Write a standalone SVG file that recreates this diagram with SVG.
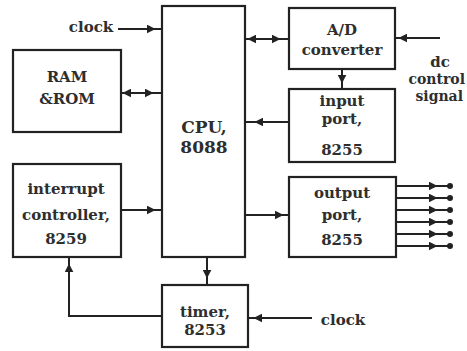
<svg xmlns="http://www.w3.org/2000/svg" width="467" height="351" viewBox="0 0 467 351">
<style>
.box{fill:#fff;stroke:#222;stroke-width:2.2}
.ln{fill:none;stroke:#222;stroke-width:2}
.a{marker-mid:url(#ah)}
.b{marker-mid:url(#ahl)}
.t{font-family:"DejaVu Serif","Liberation Serif",serif;font-weight:bold;font-size:15px;fill:#2e2e2e;text-anchor:middle}
.tb{font-size:17px}
.e{text-anchor:end;font-size:14px}
</style>
<defs>
<marker id="ah" viewBox="0 0 10 10" refX="6" refY="5" markerWidth="4.5" markerHeight="4.5" orient="auto"><path d="M0,0 L10,5 L0,10 z" fill="#222"/></marker>
<marker id="ahl" viewBox="0 0 10 10" refX="4" refY="5" markerWidth="4.5" markerHeight="4.5" orient="auto"><path d="M10,0 L0,5 L10,10 z" fill="#222"/></marker>
<marker id="dot" viewBox="0 0 10 10" refX="5" refY="5" markerWidth="3" markerHeight="3"><circle cx="5" cy="5" r="5" fill="#222"/></marker>
</defs>
<rect width="467" height="351" fill="#fff"/>
<g id="connectors">
<polyline class="ln a" points="118,29 152,29 162,29"/>
<polyline class="ln b" points="121,93 126,93 138,93"/>
<polyline class="ln a" points="138,93 150,93 162,93"/>
<polyline class="ln b" points="245,39 251,39 264,39"/>
<polyline class="ln a" points="264,39 277,39 289,39"/>
<polyline class="ln a" points="440,38 402,38 395,38"/>
<polyline class="ln a" points="342,69 342,80 342,89"/>
<polyline class="ln a" points="289,122 258,122 245,122"/>
<polyline class="ln a" points="121,210 152,210 162,210"/>
<polyline class="ln a" points="245,215 280,215 289,215"/>
<polyline class="ln a" points="207,257 207,275 207,285"/>
<polyline class="ln" points="162,316 69,316 69,290"/>
<polyline class="ln a" points="69,290 69,267 69,257"/>
<polyline class="ln a" points="312,318 257,318 248,318"/>
<g id="outputs">
<polyline class="ln a" points="396,186 434,186 450,186" marker-end="url(#dot)"/>
<polyline class="ln a" points="396,198 434,198 450,198" marker-end="url(#dot)"/>
<polyline class="ln a" points="396,210 434,210 450,210" marker-end="url(#dot)"/>
<polyline class="ln a" points="396,222 434,222 450,222" marker-end="url(#dot)"/>
<polyline class="ln a" points="396,234 434,234 450,234" marker-end="url(#dot)"/>
<polyline class="ln a" points="396,246 434,246 450,246" marker-end="url(#dot)"/>
</g>
</g>
<g id="cpu"><rect class="box" x="162" y="6" width="83" height="251"/>
<text class="t tb" x="204" y="133">CPU,</text><text class="t tb" x="204" y="153">8088</text></g>
<g id="ram"><rect class="box" x="13" y="50" width="108" height="82"/>
<text class="t" x="67" y="82">RAM</text><text class="t" x="67" y="104">&amp;ROM</text></g>
<g id="intr"><rect class="box" x="13" y="164" width="108" height="93"/>
<text class="t" x="66" y="194">interrupt</text><text class="t" x="66" y="220">controller,</text><text class="t" x="66" y="244">8259</text></g>
<g id="adc"><rect class="box" x="289" y="8" width="106" height="61"/>
<text class="t" x="342" y="35">A/D</text><text class="t" x="342" y="55">converter</text></g>
<g id="inport"><rect class="box" x="289" y="89" width="106" height="73"/>
<text class="t" x="342" y="106">input</text><text class="t" x="342" y="124">port,</text><text class="t" x="342" y="155">8255</text></g>
<g id="outport"><rect class="box" x="289" y="177" width="107" height="80"/>
<text class="t" x="342" y="198">output</text><text class="t" x="342" y="220">port,</text><text class="t" x="342" y="245">8255</text></g>
<g id="timer"><rect class="box" x="162" y="285" width="86" height="62"/>
<text class="t" x="205" y="317">timer,</text><text class="t" x="205" y="335">8253</text></g>
<g id="labels">
<text class="t" x="91" y="32">clock</text>
<text class="t" x="343" y="325">clock</text>
<text class="t" x="440" y="67">dc</text>
<text class="t e" x="465" y="84">control</text>
<text class="t e" x="463" y="101">signal</text>
</g>
</svg>
